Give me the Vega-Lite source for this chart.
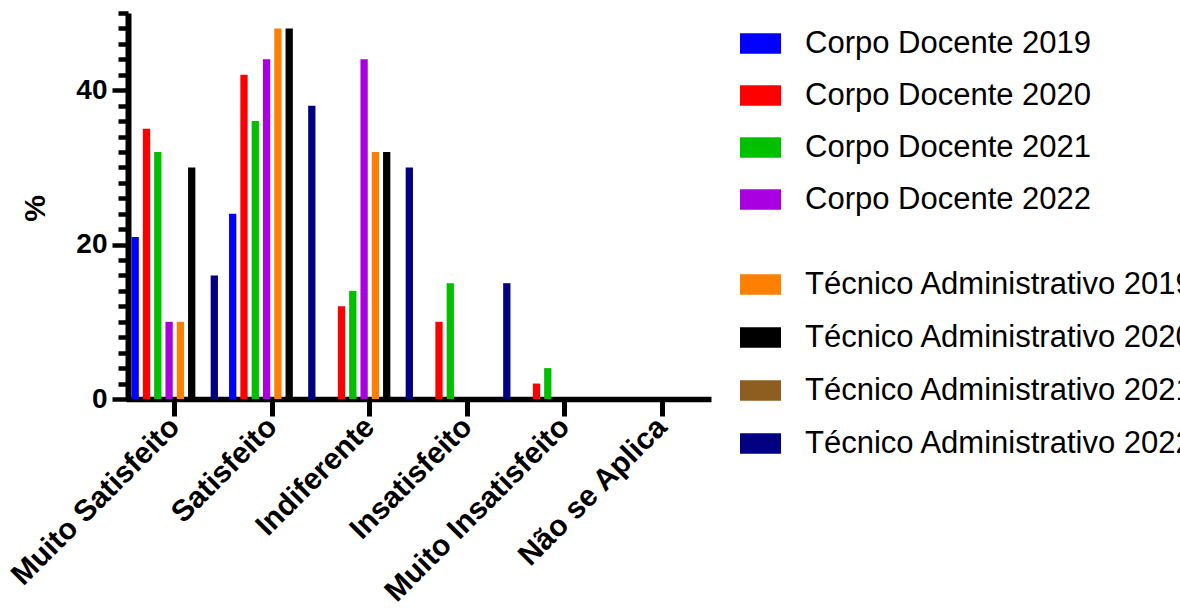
{
  "$schema": "https://vega.github.io/schema/vega-lite/v6.json",
  "width": 585,
  "height": 386,
  "autosize": {"type": "none"},
  "padding": {"left": 126, "top": 13, "right": 469, "bottom": 217},
  "background": "white",
  "config": {"view": {"stroke": null}, "font": "Liberation Sans"},
  "data": {
    "values": [
      {"cat": "Muito Satisfeito", "series": "Corpo Docente 2019", "value": 21},
      {"cat": "Muito Satisfeito", "series": "Corpo Docente 2020", "value": 35},
      {"cat": "Muito Satisfeito", "series": "Corpo Docente 2021", "value": 32},
      {"cat": "Muito Satisfeito", "series": "Corpo Docente 2022", "value": 10},
      {"cat": "Muito Satisfeito", "series": "Técnico Administrativo 2019", "value": 10},
      {"cat": "Muito Satisfeito", "series": "Técnico Administrativo 2020", "value": 30},
      {"cat": "Muito Satisfeito", "series": "Técnico Administrativo 2021", "value": 0},
      {"cat": "Muito Satisfeito", "series": "Técnico Administrativo 2022", "value": 16},
      {"cat": "Satisfeito", "series": "Corpo Docente 2019", "value": 24},
      {"cat": "Satisfeito", "series": "Corpo Docente 2020", "value": 42},
      {"cat": "Satisfeito", "series": "Corpo Docente 2021", "value": 36},
      {"cat": "Satisfeito", "series": "Corpo Docente 2022", "value": 44},
      {"cat": "Satisfeito", "series": "Técnico Administrativo 2019", "value": 48},
      {"cat": "Satisfeito", "series": "Técnico Administrativo 2020", "value": 48},
      {"cat": "Satisfeito", "series": "Técnico Administrativo 2021", "value": 0},
      {"cat": "Satisfeito", "series": "Técnico Administrativo 2022", "value": 38},
      {"cat": "Indiferente", "series": "Corpo Docente 2019", "value": 0},
      {"cat": "Indiferente", "series": "Corpo Docente 2020", "value": 12},
      {"cat": "Indiferente", "series": "Corpo Docente 2021", "value": 14},
      {"cat": "Indiferente", "series": "Corpo Docente 2022", "value": 44},
      {"cat": "Indiferente", "series": "Técnico Administrativo 2019", "value": 32},
      {"cat": "Indiferente", "series": "Técnico Administrativo 2020", "value": 32},
      {"cat": "Indiferente", "series": "Técnico Administrativo 2021", "value": 0},
      {"cat": "Indiferente", "series": "Técnico Administrativo 2022", "value": 30},
      {"cat": "Insatisfeito", "series": "Corpo Docente 2019", "value": 0},
      {"cat": "Insatisfeito", "series": "Corpo Docente 2020", "value": 10},
      {"cat": "Insatisfeito", "series": "Corpo Docente 2021", "value": 15},
      {"cat": "Insatisfeito", "series": "Corpo Docente 2022", "value": 0},
      {"cat": "Insatisfeito", "series": "Técnico Administrativo 2019", "value": 0},
      {"cat": "Insatisfeito", "series": "Técnico Administrativo 2020", "value": 0},
      {"cat": "Insatisfeito", "series": "Técnico Administrativo 2021", "value": 0},
      {"cat": "Insatisfeito", "series": "Técnico Administrativo 2022", "value": 15},
      {"cat": "Muito Insatisfeito", "series": "Corpo Docente 2019", "value": 0},
      {"cat": "Muito Insatisfeito", "series": "Corpo Docente 2020", "value": 2},
      {"cat": "Muito Insatisfeito", "series": "Corpo Docente 2021", "value": 4},
      {"cat": "Muito Insatisfeito", "series": "Corpo Docente 2022", "value": 0},
      {"cat": "Muito Insatisfeito", "series": "Técnico Administrativo 2019", "value": 0},
      {"cat": "Muito Insatisfeito", "series": "Técnico Administrativo 2020", "value": 0},
      {"cat": "Muito Insatisfeito", "series": "Técnico Administrativo 2021", "value": 0},
      {"cat": "Muito Insatisfeito", "series": "Técnico Administrativo 2022", "value": 0},
      {"cat": "Não se Aplica", "series": "Corpo Docente 2019", "value": 0},
      {"cat": "Não se Aplica", "series": "Corpo Docente 2020", "value": 0},
      {"cat": "Não se Aplica", "series": "Corpo Docente 2021", "value": 0},
      {"cat": "Não se Aplica", "series": "Corpo Docente 2022", "value": 0},
      {"cat": "Não se Aplica", "series": "Técnico Administrativo 2019", "value": 0},
      {"cat": "Não se Aplica", "series": "Técnico Administrativo 2020", "value": 0},
      {"cat": "Não se Aplica", "series": "Técnico Administrativo 2021", "value": 0},
      {"cat": "Não se Aplica", "series": "Técnico Administrativo 2022", "value": 0}
    ]
  },
  "encoding": {
    "x": {
      "field": "cat",
      "type": "nominal",
      "sort": ["Muito Satisfeito", "Satisfeito", "Indiferente", "Insatisfeito", "Muito Insatisfeito", "Não se Aplica"],
      "scale": {"paddingInner": 0.072, "paddingOuter": 0.036},
      "axis": {
        "title": null,
        "labelAngle": -45,
        "labelAlign": "right",
        "labelBaseline": "middle",
        "labelFont": "Liberation Sans",
        "labelFontSize": 30,
        "labelFontWeight": "bold",
        "labelColor": "black",
        "labelPadding": 6,
        "labelLimit": 500,
        "domainColor": "black",
        "domainWidth": 5.5,
        "tickColor": "black",
        "tickWidth": 5,
        "tickSize": 17
      }
    },
    "xOffset": {
      "field": "series",
      "type": "nominal",
      "scale": {
        "domain": ["Corpo Docente 2019", "Corpo Docente 2020", "Corpo Docente 2021", "Corpo Docente 2022", "Técnico Administrativo 2019", "Técnico Administrativo 2020", "Técnico Administrativo 2021", "Técnico Administrativo 2022"],
        "paddingInner": 0.355,
        "paddingOuter": 0.18
      }
    },
    "y": {
      "field": "value",
      "type": "quantitative",
      "scale": {"domain": [0, 50], "nice": false},
      "axis": {
        "title": "%",
        "titleFont": "Liberation Sans",
        "titleFontSize": 30,
        "titleFontWeight": "bold",
        "titleColor": "black",
        "titleAngle": -90,
        "titleX": -93,
        "titleY": 195,
        "titleAlign": "center",
        "titleBaseline": "middle",
        "values": [0, 2, 4, 6, 8, 10, 12, 14, 16, 18, 20, 22, 24, 26, 28, 30, 32, 34, 36, 38, 40, 42, 44, 46, 48, 50],
        "labelExpr": "datum.value % 20 === 0 ? datum.label : ''",
        "labelOverlap": false,
        "labelFont": "Liberation Sans",
        "labelFontSize": 28,
        "labelFontWeight": "bold",
        "labelColor": "black",
        "labelBaseline": "middle",
        "labelPadding": 5,
        "grid": false,
        "offset": -2,
        "domainColor": "black",
        "domainWidth": 6,
        "tickColor": "black",
        "tickWidth": 4.5,
        "tickSize": {"condition": {"test": "datum.value % 20 === 0", "value": 16}, "value": 10}
      }
    }
  },
  "layer": [
    {
      "transform": [{"filter": "indexof(datum.series, 'Corpo') === 0"}],
      "mark": {"type": "bar"},
      "encoding": {
        "color": {
          "field": "series",
          "type": "nominal",
          "scale": {
            "domain": ["Corpo Docente 2019", "Corpo Docente 2020", "Corpo Docente 2021", "Corpo Docente 2022"],
            "range": ["#0000FF", "#FF0000", "#00C000", "#A800E0"]
          },
          "legend": {
            "title": null,
            "orient": "none",
            "legendX": 614,
            "legendY": 10,
            "padding": 0,
            "symbolType": "M-1,-0.5H1V0.5H-1Z",
            "symbolSize": 1681,
            "symbolStrokeWidth": 0,
            "symbolOpacity": 1,
            "labelFont": "Liberation Sans",
            "labelFontSize": 31,
            "labelColor": "black",
            "labelOffset": 24,
            "labelLimit": 1000,
            "rowPadding": 16
          }
        }
      }
    },
    {
      "transform": [{"filter": "indexof(datum.series, 'Técnico') === 0"}],
      "mark": {"type": "bar"},
      "encoding": {
        "color": {
          "field": "series",
          "type": "nominal",
          "scale": {
            "domain": ["Técnico Administrativo 2019", "Técnico Administrativo 2020", "Técnico Administrativo 2021", "Técnico Administrativo 2022"],
            "range": ["#FF8000", "#000000", "#8E5E20", "#000080"]
          },
          "legend": {
            "title": null,
            "orient": "none",
            "legendX": 614,
            "legendY": 251,
            "padding": 0,
            "symbolType": "M-1,-0.5H1V0.5H-1Z",
            "symbolSize": 1681,
            "symbolStrokeWidth": 0,
            "symbolOpacity": 1,
            "labelFont": "Liberation Sans",
            "labelFontSize": 31,
            "labelColor": "black",
            "labelOffset": 24,
            "labelLimit": 1000,
            "rowPadding": 17
          }
        }
      }
    }
  ],
  "resolve": {"scale": {"color": "independent"}}
}
